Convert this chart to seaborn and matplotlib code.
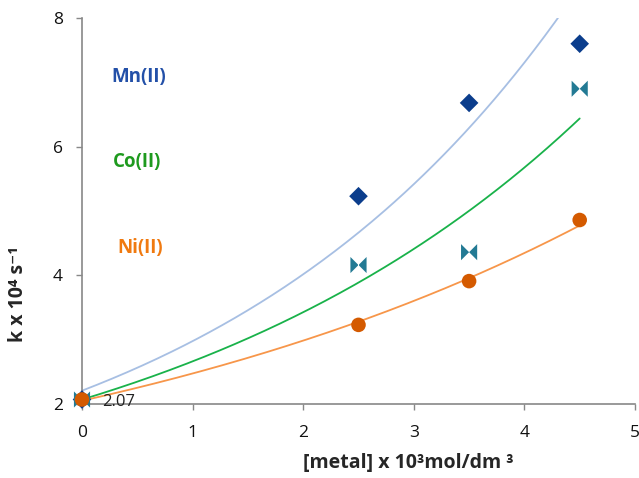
import numpy as np
import pandas as pd
import matplotlib
matplotlib.use("Agg")
import matplotlib.pyplot as plt
from matplotlib.path import Path
import seaborn as sns

# ---- data ----
conc = [0.0, 2.5, 3.5, 4.5]
mn_k = [2.07, 5.23, 6.68, 7.60]
co_k = [2.07, 4.16, 4.36, 6.90]
ni_k = [2.07, 3.23, 3.91, 4.86]
series_names = ["Mn(II)", "Co(II)", "Ni(II)"]
x_ticks = [0, 1, 2, 3, 4, 5]
y_ticks = [2, 4, 6, 8]
intercept_label = "2.07"

sns.set_theme(style="ticks")
plt.rcParams['font.family'] = ['Open Sans', 'DejaVu Sans']

fig = plt.figure(figsize=(6.39, 4.78), dpi=100)
ax = fig.add_axes([82/639, 1-404/478, (635-82)/639, (404-18)/478])

bowtie = Path([(-1, -1), (0, 0), (-1, 1), (-1, -1),
               (1, -1), (0, 0), (1, 1), (1, -1)],
              [Path.MOVETO, Path.LINETO, Path.LINETO, Path.CLOSEPOLY,
               Path.MOVETO, Path.LINETO, Path.LINETO, Path.CLOSEPOLY])

styles = {
    "Mn(II)": dict(vals=mn_k, marker="D", mcol="#0B3D8C", lcol="#A7BFE3", ms=90, tcol="#2350A8",
                   tx=0.27, ty=7.08),
    "Co(II)": dict(vals=co_k, marker=bowtie, mcol="#237A94", lcol="#19B24A", ms=135, tcol="#1E9A1E",
                   tx=0.28, ty=5.76),
    "Ni(II)": dict(vals=ni_k, marker="o", mcol="#D45A00", lcol="#F7964A", ms=110, tcol="#F07A10",
                   tx=0.32, ty=4.43),
}

xfit = np.linspace(0, 4.5, 200)
for name in series_names:
    s = styles[name]
    xs = np.array(conc)
    ys = np.array(s["vals"])
    b, lna = np.polyfit(xs, np.log(ys), 1)
    yfit = np.exp(lna) * np.exp(b * xfit)
    sns.lineplot(x=xfit, y=yfit, ax=ax, color=s["lcol"], lw=1.3, zorder=2)
    df = pd.DataFrame({"x": xs, "y": ys})
    sns.scatterplot(data=df, x="x", y="y", ax=ax, marker=s["marker"], color=s["mcol"],
                    s=s["ms"], edgecolor="none", zorder=3, clip_on=False)
    ax.text(s["tx"], s["ty"], name, color=s["tcol"], fontsize=13.5, fontweight="bold",
            ha="left", va="center")

ax.text(0.18, 2.03, intercept_label, fontsize=12, color="#222222", ha="left", va="center")

ax.set_xlim(0, 5)
ax.set_ylim(2, 8)
ax.set_xticks(x_ticks)
ax.set_yticks(y_ticks)
ax.tick_params(axis="both", labelsize=12.5, colors="#888888", labelcolor="#111111",
               length=4.3, width=1.0, direction="out")
ax.tick_params(axis="x", pad=11)
ax.tick_params(axis="y", pad=9.5)
for sp in ["top", "right"]:
    ax.spines[sp].set_visible(False)
for sp in ["left", "bottom"]:
    ax.spines[sp].set_color("#888888")
    ax.spines[sp].set_linewidth(1.2)

ax.set_xlabel("[metal] x 10\u00b3mol/dm \u00b3", fontsize=14, fontweight="bold")
ax.xaxis.label.set_va("center")
ax.xaxis.set_label_coords(0.590, -0.153)
ax.set_ylabel("k x 10\u2074 s\u207b\u00b9", fontsize=14, fontweight="bold")
ax.yaxis.label.set_va("center")
ax.yaxis.set_label_coords(-0.1157, 0.285)

fig.savefig("out.png", dpi=100)
